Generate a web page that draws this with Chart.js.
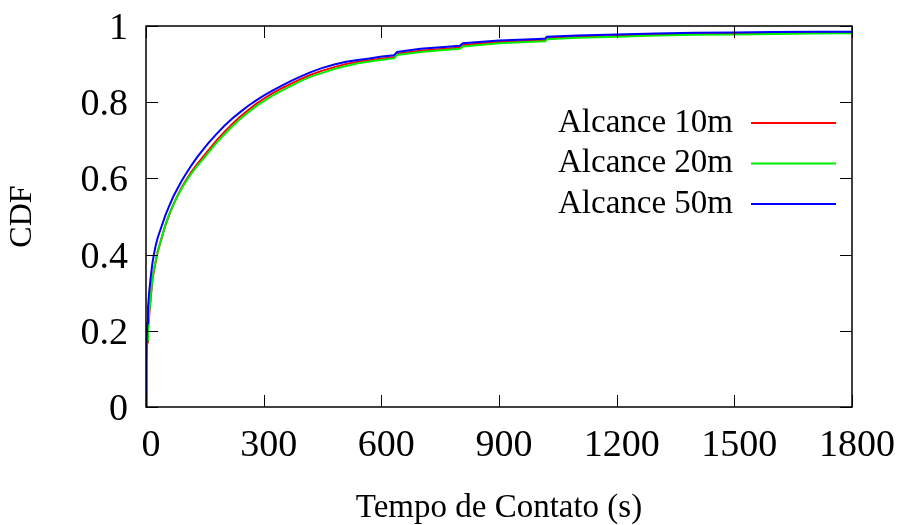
<!DOCTYPE html>
<html>
<head>
<meta charset="utf-8">
<script src="https://cdn.jsdelivr.net/npm/chart.js@4"></script>
<style>
  html, body { margin: 0; padding: 0; background: #fff; }
  #wrap { width: 899px; height: 525px; position: relative; }
</style>
</head>
<body>
<div id="wrap"><canvas id="c" width="899" height="525"></canvas></div>
<script>
// ---- data ----
const times = [0, 1, 3, 5, 8, 12, 16, 20, 25, 30,
  40, 50, 60, 70, 80, 90, 100, 115, 130, 145,
  160, 180, 200, 220, 240, 260, 280, 300, 320, 345,
  370, 395, 420, 450, 480, 510, 540, 570, 597, 632,
  640, 700, 760, 800, 808, 900, 1000, 1018, 1022, 1100,
  1200, 1300, 1400, 1500, 1600, 1700, 1800];
const alcance10 = [0, 0.12, 0.17, 0.20, 0.24, 0.285, 0.33, 0.357, 0.383, 0.408,
  0.444, 0.479, 0.507, 0.532, 0.554, 0.574, 0.592, 0.616, 0.637, 0.656,
  0.675, 0.70, 0.722, 0.743, 0.762, 0.779, 0.795, 0.809, 0.822, 0.836,
  0.849, 0.861, 0.872, 0.883, 0.892, 0.900, 0.906, 0.910, 0.914, 0.918,
  0.927, 0.935, 0.940, 0.943, 0.950, 0.958, 0.962, 0.963, 0.968, 0.971,
  0.974, 0.977, 0.979, 0.980, 0.981, 0.982, 0.983];
const alcance20 = [0, 0.12, 0.175, 0.205, 0.245, 0.29, 0.335, 0.36, 0.385, 0.41,
  0.445, 0.48, 0.508, 0.532, 0.553, 0.572, 0.589, 0.612, 0.632, 0.65,
  0.669, 0.694, 0.716, 0.737, 0.756, 0.773, 0.789, 0.803, 0.816, 0.830,
  0.843, 0.856, 0.867, 0.877, 0.887, 0.895, 0.902, 0.907, 0.911, 0.915,
  0.924, 0.932, 0.937, 0.940, 0.946, 0.955, 0.959, 0.960, 0.965, 0.969,
  0.972, 0.975, 0.977, 0.978, 0.979, 0.980, 0.981];
const alcance50 = [0, 0.15, 0.22, 0.26, 0.30, 0.34, 0.375, 0.40, 0.425, 0.445,
  0.475, 0.505, 0.53, 0.553, 0.573, 0.592, 0.609, 0.633, 0.655, 0.675,
  0.694, 0.717, 0.738, 0.757, 0.774, 0.790, 0.804, 0.817, 0.829, 0.843,
  0.856, 0.868, 0.879, 0.890, 0.899, 0.906, 0.911, 0.915, 0.919, 0.923,
  0.932, 0.940, 0.945, 0.948, 0.955, 0.962, 0.966, 0.967, 0.972, 0.975,
  0.978, 0.980, 0.982, 0.983, 0.984, 0.985, 0.985];
const seriesNames = ["Alcance 10m", "Alcance 20m", "Alcance 50m"];
const seriesColors = ["#ff0000", "#00ee00", "#0000ff"];
const xTicks = [0, 300, 600, 900, 1200, 1500, 1800];
const yTicks = [0, 0.2, 0.4, 0.6, 0.8, 1];
const xTitle = "Tempo de Contato (s)";
const yTitle = "CDF";

const FONT = "'Liberation Serif', 'Times New Roman', serif";
const seriesValues = [alcance10, alcance20, alcance50];

const datasets = seriesValues.map((vals, k) => ({
  label: seriesNames[k],
  data: times.map((t, i) => ({ x: t, y: vals[i] })),
  borderColor: seriesColors[k],
  backgroundColor: seriesColors[k],
  borderWidth: 2,
  pointRadius: 0,
  tension: 0,
  fill: false,
  order: 3 - k
}));

const framePlugin = {
  id: 'frame',
  afterDatasetsDraw(chart) {
    const { ctx, chartArea: a, scales: { x, y } } = chart;
    ctx.save();
    ctx.strokeStyle = '#000';
    ctx.lineWidth = 1;
    const L = 12;
    ctx.beginPath();
    xTicks.forEach(v => {
      const px = Math.round(x.getPixelForValue(v)) + 0.5;
      ctx.moveTo(px, a.bottom); ctx.lineTo(px, a.bottom - L);
      ctx.moveTo(px, a.top); ctx.lineTo(px, a.top + L);
    });
    yTicks.forEach(v => {
      const py = Math.round(y.getPixelForValue(v)) + 0.5;
      ctx.moveTo(a.left, py); ctx.lineTo(a.left + L, py);
      ctx.moveTo(a.right, py); ctx.lineTo(a.right - L, py);
    });
    ctx.stroke();
    ctx.lineWidth = 1.5;
    ctx.strokeRect(a.left, a.top, a.right - a.left, a.bottom - a.top);
    // legend
    ctx.font = "33px " + FONT;
    ctx.textAlign = 'right';
    ctx.textBaseline = 'middle';
    const textRight = a.right - 119;
    const lineX0 = a.right - 101, lineX1 = a.right - 16;
    seriesNames.forEach((name, k) => {
      const yy = a.top + 97 + k * 40.5;
      ctx.fillStyle = '#000';
      ctx.fillText(name, textRight, yy);
      ctx.strokeStyle = seriesColors[k];
      ctx.lineWidth = 2;
      ctx.beginPath();
      ctx.moveTo(lineX0, yy); ctx.lineTo(lineX1, yy);
      ctx.stroke();
    });
    ctx.restore();
  }
};

new Chart(document.getElementById('c'), {
  type: 'line',
  data: { datasets },
  options: {
    responsive: false,
    animation: false,
    layout: { padding: { left: 0, top: 26, right: 47, bottom: 0 } },
    plugins: { legend: { display: false }, tooltip: { enabled: false } },
    scales: {
      x: {
        type: 'linear', min: 0, max: 1800,
        afterBuildTicks: s => { s.ticks = xTicks.map(v => ({ value: v })); },
        afterFit: s => { s.height = 118; s.paddingLeft = 0; s.paddingRight = 0; },
        grid: { display: false, drawTicks: false },
        border: { display: false },
        ticks: { color: '#000', font: { family: FONT, size: 38 }, padding: 16, labelOffset: 5, maxRotation: 0, autoSkip: false, callback: v => String(v) },
        title: { display: true, text: xTitle, color: '#000', font: { family: FONT, size: 33, lineHeight: 1 }, padding: { top: 0, bottom: 0 } }
      },
      y: {
        type: 'linear', min: 0, max: 1,
        afterBuildTicks: s => { s.ticks = yTicks.map(v => ({ value: v })); },
        afterFit: s => { s.width = 146; s.paddingTop = 0; s.paddingBottom = 0; },
        grid: { display: false, drawTicks: false },
        border: { display: false },
        ticks: { color: '#000', font: { family: FONT, size: 38 }, padding: 18, labelOffset: 3, callback: v => String(Math.round(v * 10) / 10) },
        title: { display: true, text: yTitle, color: '#000', font: { family: FONT, size: 32, lineHeight: 1 }, padding: { top: 7, bottom: 0 } }
      }
    }
  },
  plugins: [framePlugin]
});
</script>
</body>
</html>
